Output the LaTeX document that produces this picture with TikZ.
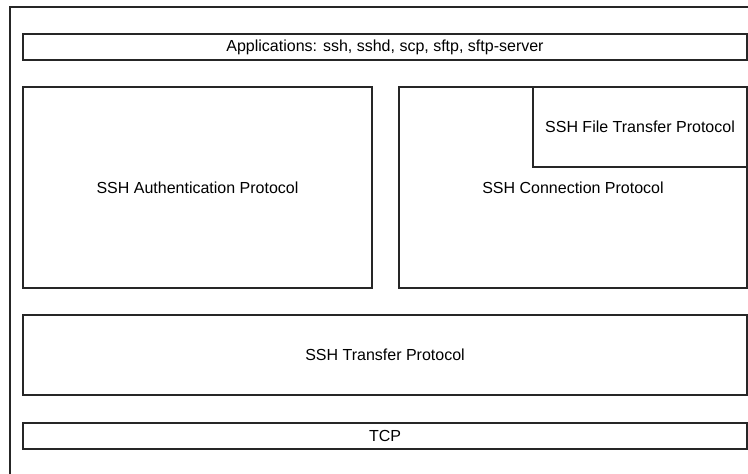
\documentclass[tikz,border=0pt]{standalone}
\usepackage{fontspec}
\setmainfont{Liberation Sans}
\begin{document}
\begin{tikzpicture}[x=1pt,y=-1pt,
  layer/.style={draw=black!85, line width=1.4pt, fill=none, inner sep=0pt,
    font=\fontsize{16}{19}\selectfont},
]
  \useasboundingbox (0,0) rectangle (748,474);
  \clip (0,0) rectangle (748,474);
  \fill[white] (0,0) rectangle (748,474);
  % outer frame, running past the page on the right and bottom
  \draw[black!85, line width=1.4pt] (10,7) rectangle (770,490);

  % protocol stack
  \node[layer, minimum width=724pt, minimum height=26pt] (apps) at (385,47) {Applications: ssh, sshd, scp, sftp, sftp-server};
  \node[layer, minimum width=349pt, minimum height=201pt] (auth) at (197.5,187.5) {SSH Authentication Protocol};
  \node[layer, minimum width=348pt, minimum height=201pt] (conn) at (573,187.5) {SSH Connection Protocol};
  \node[layer, minimum width=214pt, minimum height=80pt] (sftp) at (640,127) {SSH File Transfer Protocol};
  \node[layer, minimum width=724pt, minimum height=80pt] (trans) at (385,355) {SSH Transfer Protocol};
  \node[layer, minimum width=724pt, minimum height=26pt] (tcp) at (385,436) {TCP};
\end{tikzpicture}
\end{document}
